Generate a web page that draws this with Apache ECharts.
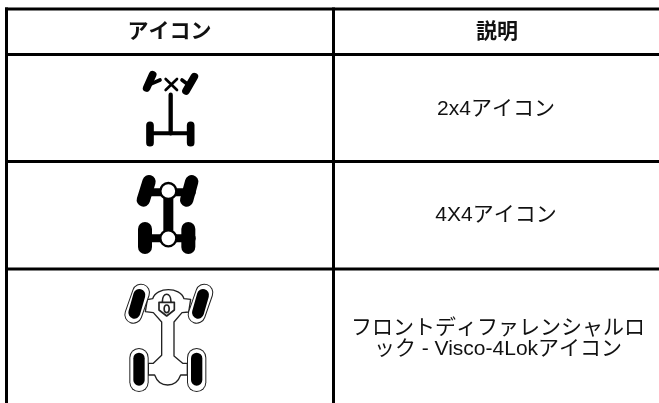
<!DOCTYPE html>
<html><head><meta charset="utf-8">
<style>html,body{margin:0;padding:0;background:#fff}#c{width:659px;height:403px}</style>
<script src="https://cdn.jsdelivr.net/npm/echarts@6/dist/echarts.min.js"></script>
</head><body><div id="c"></div>
<script>
const headers = ['アイコン', '説明'];
const descriptions = ['2x4アイコン', '4X4アイコン', 'フロントディファレンシャルロ\nック - Visco-4Lokアイコン'];
const FONT = '"Liberation Sans","Noto Sans CJK JP",sans-serif';
const INK = '#000';

function rect(x, y, width, height) {
  return {type: 'rect', shape: {x, y, width, height}, style: {fill: INK}, silent: true};
}
function text(str, x, y, weight) {
  return {type: 'text', x, y, silent: true, style: {
    text: str, fill: '#111', font: (weight || 'normal') + ' 21px ' + FONT,
    textAlign: 'center', textVerticalAlign: 'middle', lineHeight: 21
  }};
}
// icon parts are authored in crop pixels (3x) and mapped back with a scaled group
let shapeCount = 0;
function raw(d, w, color, fill) {
  const name = 'iconPart' + (shapeCount++);
  echarts.graphic.registerShape(name, echarts.graphic.extendPath(d, {}));
  return {type: name, silent: true,
    style: {stroke: color || INK, lineWidth: w, fill: fill || 'none', lineCap: 'round', lineJoin: 'round'}};
}
function group(ox, oy, children) {
  return {type: 'group', x: ox, y: oy, scaleX: 1 / 3, scaleY: 1 / 3, silent: true, children};
}
const icon1 = group(100, 50, [
  raw('M158 74 L140 114', 23),
  raw('M283 80 L258 123', 23),
  raw('M148 104 L180 90', 11),
  raw('M262 102 L246 90', 11),
  raw('M197 87 L231 120 M231 87 L197 120', 8),
  raw('M212 134 L212 250', 13),
  raw('M150 226 L150 278 M272 226 L272 278', 23),
  raw('M150 250 L272 250', 12)
]);
const icon2 = group(100, 155, [
  raw('M147 80 L130 135', 40),
  raw('M275 80 L260 135', 40),
  raw('M135 222 L135 276', 42),
  raw('M265 222 L265 276', 42),
  raw('M135 112 L275 112', 24),
  raw('M135 250 L275 250', 24),
  raw('M205 108 L205 250', 30),
  {type: 'circle', shape: {cx: 205, cy: 108, r: 24}, style: {fill: '#fff', stroke: INK, lineWidth: 7}, silent: true},
  {type: 'circle', shape: {cx: 205, cy: 250, r: 24}, style: {fill: '#fff', stroke: INK, lineWidth: 7}, silent: true}
]);
const LOCK_BODY = 'M142 119 L158 116 C170 80 240 80 252 116 L272 118 L266 156 L246 158 L222 186 L222 288 L248 310 L262 310 L262 345 L242 345 C228 385 178 385 164 345 L145 345 L145 310 L160 310 L185 286 L185 186 L160 158 L136 155 Z';
function capsule(x1, y1, x2, y2, w) {
  const d = `M${x1} ${y1} L${x2} ${y2}`;
  return [raw(d, w, '#222'), raw(d, w - 6, '#fff')];
}
const icon3 = group(100, 260, [
  raw(LOCK_BODY, 4, '#222', '#fff'),
  ...capsule(123, 98, 100, 164, 54),
  ...capsule(313, 98, 290, 164, 54),
  ...capsule(117, 293, 117, 367, 58),
  ...capsule(290, 293, 290, 367, 58),
  raw('M118 105 L103 158', 36),
  raw('M309 105 L294 158', 36),
  raw('M117 295 L117 360', 34),
  raw('M290 295 L290 360', 34),
  raw('M187 126 C187 95 213 95 213 126', 5, '#222'),
  raw('M177 127 L223 127 L223 150 L200 168 L177 150 Z', 5, '#222', '#fff'),
  raw('M200 135 C190 135 190 158 200 158 C210 158 210 135 200 135 Z', 5, '#222')
]);

const graphics = [
  rect(5, 7.5, 654, 3),
  rect(5, 7.5, 3, 395.5),
  rect(332, 7.5, 3, 395.5),
  rect(5, 53, 654, 3),
  rect(5, 160, 654, 3),
  rect(5, 267.5, 654, 3),
  text(headers[0], 169.5, 32, 'bold'),
  text(headers[1], 497, 32, 'bold'),
  text(descriptions[0], 496, 109),
  text(descriptions[1], 496, 215),
  text(descriptions[2], 498, 339),
  icon1, icon2, icon3
];
const chart = echarts.init(document.getElementById('c'), null, {renderer: 'canvas'});
chart.setOption({animation: false, backgroundColor: '#fff', graphic: {elements: graphics}});
</script></body></html>
